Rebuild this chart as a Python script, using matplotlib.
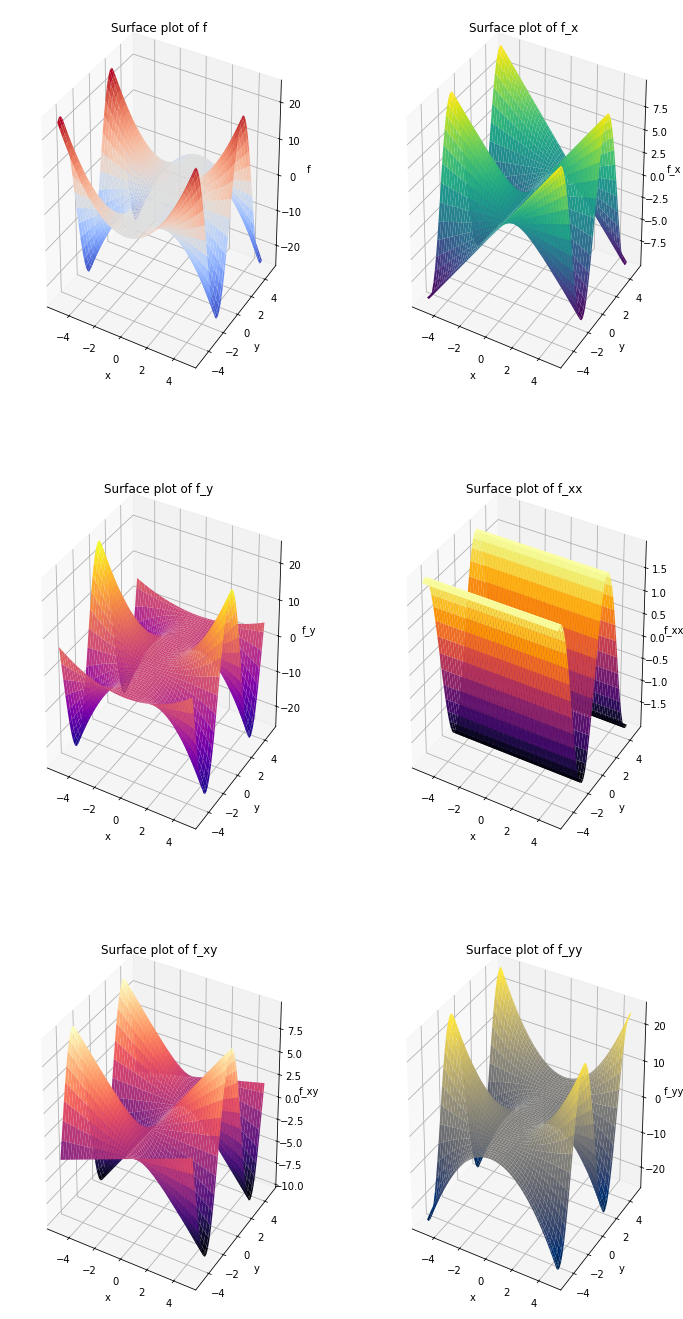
import numpy as np
import matplotlib
matplotlib.use('Agg')
import matplotlib.pyplot as plt

# axis grid, both directions (the far edge stops short at 4.9)
grid = [-5.0, -4.8, -4.6, -4.4, -4.2, -4.0, -3.8, -3.6, -3.4, -3.2, -3.0, -2.8, -2.6,
        -2.4, -2.2, -2.0, -1.8, -1.6, -1.4, -1.2, -1.0, -0.8, -0.6, -0.4, -0.2, 0.0,
        0.2, 0.4, 0.6, 0.8, 1.0, 1.2, 1.4, 1.6, 1.8, 2.0, 2.2, 2.4, 2.6, 2.8, 3.0,
        3.2, 3.4, 3.6, 3.8, 4.0, 4.2, 4.4, 4.6, 4.8, 4.9]

# profile along x, read from the edges of the surfaces
x_curve = [25.0, 23.04, 21.16, 19.36, 17.64, 16.0, 14.44, 12.96, 11.56, 10.24, 9.0, 7.84, 6.76,
           5.76, 4.84, 4.0, 3.24, 2.56, 1.96, 1.44, 1.0, 0.64, 0.36, 0.16, 0.04, 0.0,
           0.04, 0.16, 0.36, 0.64, 1.0, 1.44, 1.96, 2.56, 3.24, 4.0, 4.84, 5.76, 6.76, 7.84, 9.0,
           10.24, 11.56, 12.96, 14.44, 16.0, 17.64, 19.36, 21.16, 23.04, 24.01]
x_slope = [-10.0, -9.6, -9.2, -8.8, -8.4, -8.0, -7.6, -7.2, -6.8, -6.4, -6.0, -5.6, -5.2,
           -4.8, -4.4, -4.0, -3.6, -3.2, -2.8, -2.4, -2.0, -1.6, -1.2, -0.8, -0.4, 0.0,
           0.4, 0.8, 1.2, 1.6, 2.0, 2.4, 2.8, 3.2, 3.6, 4.0, 4.4, 4.8, 5.2, 5.6, 6.0,
           6.4, 6.8, 7.2, 7.6, 8.0, 8.4, 8.8, 9.2, 9.6, 9.8]
x_flat = [2.0] * 51

# profiles along y
y_wave_a = [0.959, 0.996, 0.994, 0.952, 0.872, 0.757, 0.612, 0.443, 0.256, 0.058, -0.141, -0.335, -0.516,
            -0.675, -0.808, -0.909, -0.974, -1.0, -0.985, -0.932, -0.841, -0.717, -0.565, -0.389, -0.199, 0.0,
            0.199, 0.389, 0.565, 0.717, 0.841, 0.932, 0.985, 1.0, 0.974, 0.909, 0.808, 0.675, 0.516, 0.335, 0.141,
            -0.058, -0.256, -0.443, -0.612, -0.757, -0.872, -0.952, -0.994, -0.996, -0.982]
y_wave_b = [0.284, 0.087, -0.112, -0.307, -0.49, -0.654, -0.791, -0.897, -0.967, -0.998, -0.99, -0.942, -0.857,
            -0.737, -0.589, -0.416, -0.227, -0.029, 0.17, 0.362, 0.54, 0.697, 0.825, 0.921, 0.98, 1.0,
            0.98, 0.921, 0.825, 0.697, 0.54, 0.362, 0.17, -0.029, -0.227, -0.416, -0.589, -0.737, -0.857, -0.942, -0.99,
            -0.998, -0.967, -0.897, -0.791, -0.654, -0.49, -0.307, -0.112, 0.087, 0.186]
y_wave_c = [-v for v in y_wave_a]

names = ['f', 'f_x', 'f_y', 'f_xx', 'f_xy', 'f_yy']
x_parts = [x_curve, x_slope, x_curve, x_flat, x_slope, x_curve]
y_parts = [y_wave_a, y_wave_a, y_wave_b, y_wave_a, y_wave_b, y_wave_c]
cmaps = ['coolwarm', 'viridis', 'plasma', 'inferno', 'magma', 'cividis']

ticks_25 = [-20, -10, 0, 10, 20]
ticks_10 = [-7.5, -5.0, -2.5, 0.0, 2.5, 5.0, 7.5]
ticks_2 = [-1.5, -1.0, -0.5, 0.0, 0.5, 1.0, 1.5]
ticks_xy = [-10.0, -7.5, -5.0, -2.5, 0.0, 2.5, 5.0, 7.5]
z_ticks = [ticks_25, ticks_10, ticks_25, ticks_2, ticks_xy, ticks_25]
z_tops = [25.9, 10.36, 25.9, 2.07, 10.36, 25.9]

FIG_W, FIG_H = 683, 1319
AX_W, AX_H = 317, 400


def add_stretched_axes(fig, cx, top):
    # old style 3d axes: the cube fills the panel instead of staying square
    rect = [(cx - AX_W / 2) / FIG_W, 1 - (top + AX_H) / FIG_H, AX_W / FIG_W, AX_H / FIG_H]
    ax = fig.add_axes(rect, projection='3d')
    ax.set_box_aspect((1, 1, 1), zoom=0.909)
    ax.apply_aspect = lambda position=None: None
    return ax


fig = plt.figure(figsize=(FIG_W / 72, FIG_H / 72), dpi=72)
X, Y = np.meshgrid(grid, grid)

for i, name in enumerate(names):
    cx = 159 + 365 * (i % 2)
    top = 461 * (i // 2)
    ax = add_stretched_axes(fig, cx, top)
    Z = np.outer(y_parts[i], x_parts[i])
    ax.plot_surface(X, Y, Z, cmap=cmaps[i], rstride=1, cstride=1)
    ax.set_zlim(-z_tops[i], z_tops[i])
    ax.set_zticks(z_ticks[i])
    ax.set_title('Surface plot of ' + name, y=0.9825)
    ax.set_xlabel('x')
    ax.set_ylabel('y')
    ax.set_zlabel(name)

fig.savefig('out.png', dpi=72)
